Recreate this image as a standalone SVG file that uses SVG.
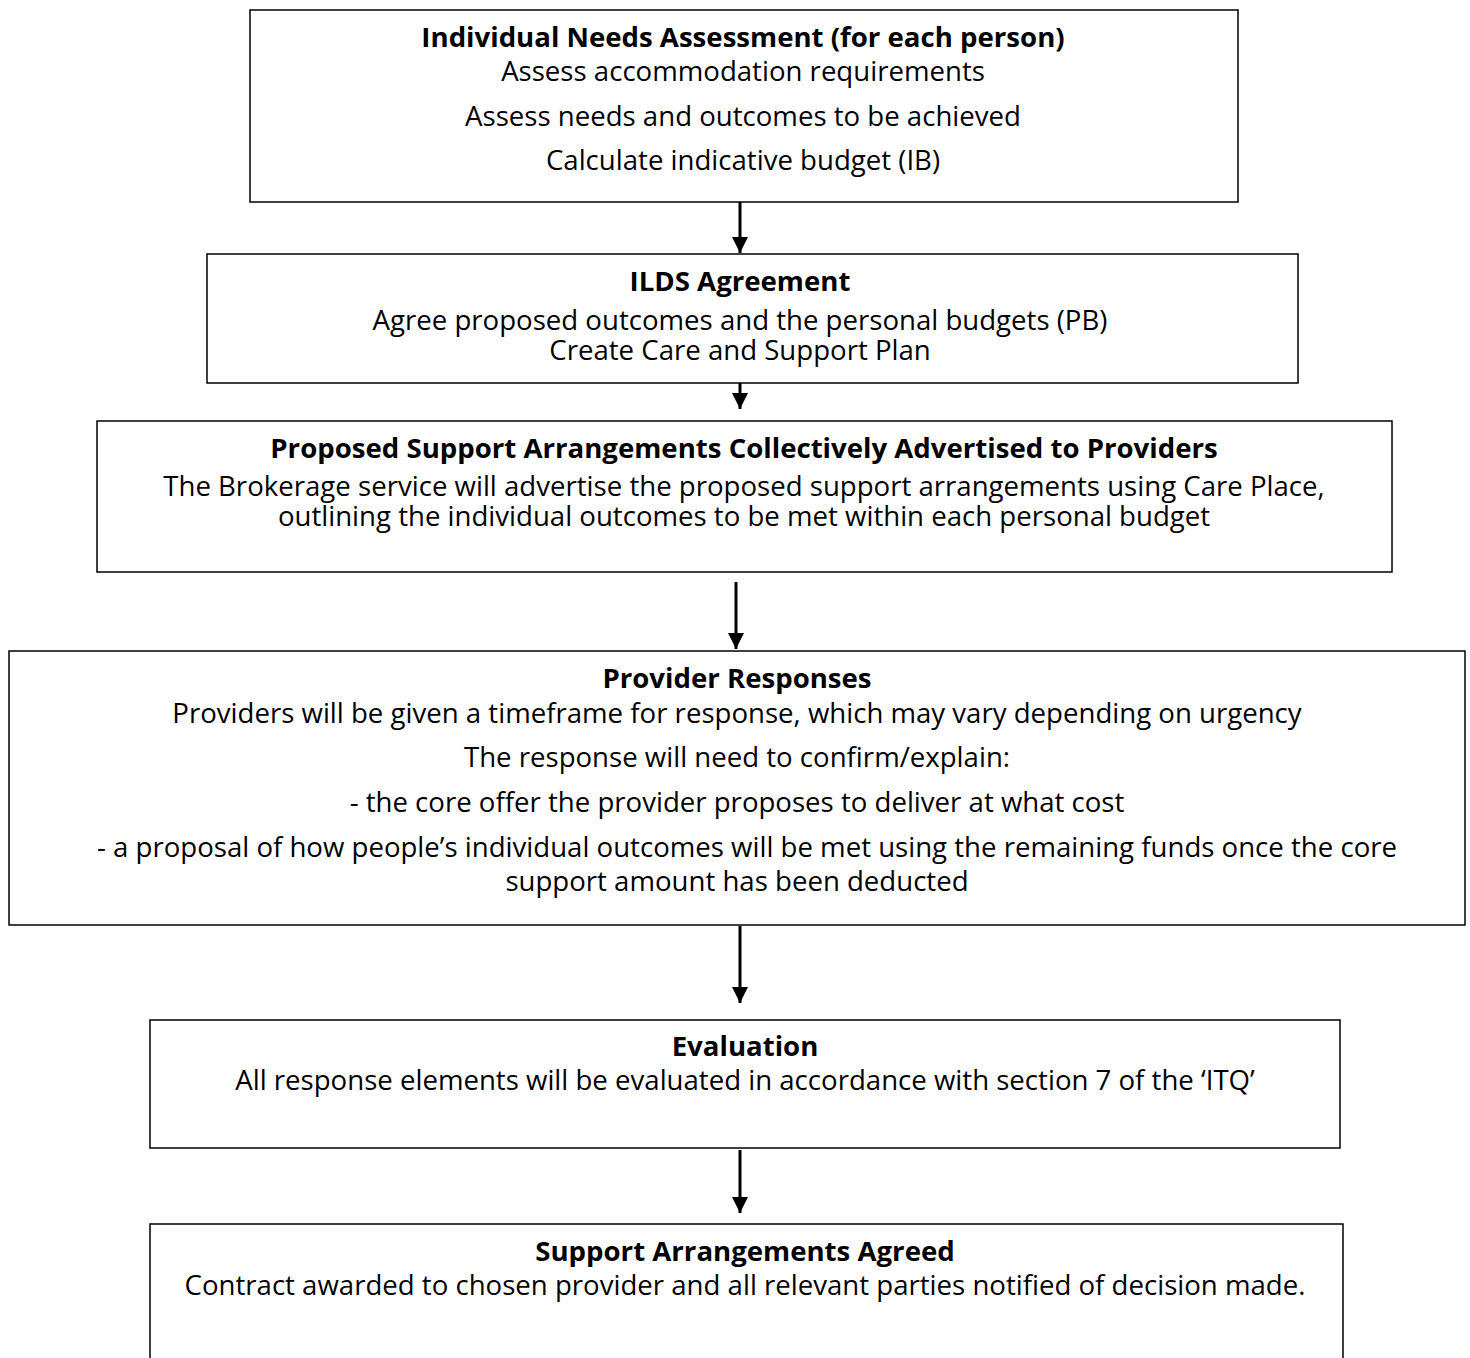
<svg xmlns="http://www.w3.org/2000/svg" width="1470" height="1358" viewBox="0 0 1470 1358">
<style>
.box{fill:#fff;stroke:#000;stroke-width:1.5}
text{font-family:"Open Sans","Noto Sans","Liberation Sans",sans-serif;font-size:27.6px;fill:#000;text-anchor:middle}
.b{font-weight:bold}
.conn{stroke:#000;stroke-width:3;fill:none}
</style>
<defs>
<marker id="ah" markerWidth="16" markerHeight="16" refX="16" refY="8" orient="auto" markerUnits="userSpaceOnUse" viewBox="0 0 16 16">
<path d="M0,0 L16,8 L0,16 z" fill="#000"/>
</marker>
</defs>
<rect width="1470" height="1358" fill="#fff"/>
<g id="n1">
<rect class="box" x="250" y="10" width="988" height="192"/>
<text x="743" y="47" class="b">Individual Needs Assessment (for each person)</text>
<text x="743" y="81">Assess accommodation requirements</text>
<text x="743" y="126">Assess needs and outcomes to be achieved</text>
<text x="743" y="170">Calculate indicative budget (IB)</text>
</g>
<g id="n2">
<rect class="box" x="207" y="254" width="1091" height="129"/>
<text x="740" y="291" class="b">ILDS Agreement</text>
<text x="740" y="330">Agree proposed outcomes and the personal budgets (PB)</text>
<text x="740" y="360">Create Care and Support Plan</text>
</g>
<g id="n3">
<rect class="box" x="97" y="421" width="1295" height="151"/>
<text x="744" y="458" class="b">Proposed Support Arrangements Collectively Advertised to Providers</text>
<text x="744" y="496">The Brokerage service will advertise the proposed support arrangements using Care Place,</text>
<text x="744" y="526">outlining the individual outcomes to be met within each personal budget</text>
</g>
<g id="n4">
<rect class="box" x="9" y="651" width="1456" height="274"/>
<text x="737" y="688" class="b">Provider Responses</text>
<text x="737" y="723">Providers will be given a timeframe for response, which may vary depending on urgency</text>
<text x="737" y="767">The response will need to confirm/explain:</text>
<text x="737" y="812">- the core offer the provider proposes to deliver at what cost</text>
<text x="747" y="857">- a proposal of how people’s individual outcomes will be met using the remaining funds once the core</text>
<text x="737" y="891">support amount has been deducted</text>
</g>
<g id="n5">
<rect class="box" x="150" y="1020" width="1190" height="128"/>
<text x="745" y="1056" class="b">Evaluation</text>
<text x="745" y="1090">All response elements will be evaluated in accordance with section 7 of the ‘ITQ’</text>
</g>
<g id="n6">
<path class="box" d="M150,1370 V1224 H1343 V1370"/>
<text x="745" y="1261" class="b">Support Arrangements Agreed</text>
<text x="745" y="1295">Contract awarded to chosen provider and all relevant parties notified of decision made.</text>
</g>
<g id="connectors">
<line class="conn" x1="740" y1="202" x2="740" y2="253" marker-end="url(#ah)"/>
<line class="conn" x1="740" y1="383" x2="740" y2="409" marker-end="url(#ah)"/>
<line class="conn" x1="736" y1="582" x2="736" y2="649" marker-end="url(#ah)"/>
<line class="conn" x1="740" y1="926" x2="740" y2="1003" marker-end="url(#ah)"/>
<line class="conn" x1="740" y1="1150" x2="740" y2="1213" marker-end="url(#ah)"/>
</g>
</svg>
